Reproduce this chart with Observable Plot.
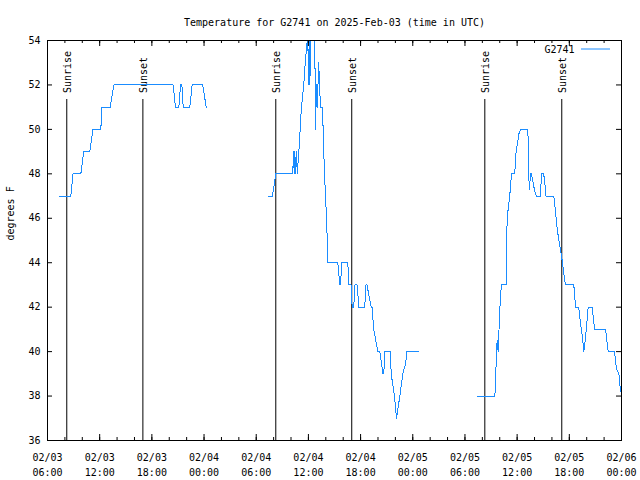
<!DOCTYPE html>
<html><head><meta charset="utf-8">
<script src="https://cdn.jsdelivr.net/npm/d3@7"></script>
<script src="https://cdn.jsdelivr.net/npm/@observablehq/plot@0.6"></script>
<style>body{margin:0;background:#fff}</style>
</head><body><div id="chart"></div>
<script>
const title = "Temperature for G2741 on 2025-Feb-03 (time in UTC)";
const seriesName = "G2741";
const yLabel = "degrees F";
const lineColor = "#1a8cff";

// observation times (UTC) and temperatures; null marks a gap in the record
const times = [
"2025-02-03T07:23","2025-02-03T08:41","2025-02-03T08:56","2025-02-03T09:50","2025-02-03T10:10","2025-02-03T10:52",
"2025-02-03T11:13","2025-02-03T12:08","2025-02-03T12:15","2025-02-03T13:13","2025-02-03T13:37","2025-02-03T20:27",
"2025-02-03T20:43","2025-02-03T21:06","2025-02-03T21:18","2025-02-03T21:27","2025-02-03T21:36","2025-02-03T22:22",
"2025-02-03T22:38","2025-02-03T23:51","2025-02-04T00:15",
null,
"2025-02-04T07:20","2025-02-04T07:52","2025-02-04T08:15","2025-02-04T10:12","2025-02-04T10:17","2025-02-04T10:22",
"2025-02-04T10:26","2025-02-04T10:33","2025-02-04T10:38","2025-02-04T10:43","2025-02-04T10:54","2025-02-04T11:03",
"2025-02-04T11:12","2025-02-04T11:28","2025-02-04T11:38","2025-02-04T11:52","2025-02-04T11:56","2025-02-04T12:01",
"2025-02-04T12:05","2025-02-04T12:10","2025-02-04T12:16","2025-02-04T12:44","2025-02-04T12:49","2025-02-04T12:56",
"2025-02-04T13:01","2025-02-04T13:11","2025-02-04T13:17","2025-02-04T13:23","2025-02-04T13:35","2025-02-04T13:42",
"2025-02-04T13:46","2025-02-04T13:51","2025-02-04T13:58","2025-02-04T14:05","2025-02-04T14:10","2025-02-04T14:14",
"2025-02-04T15:23","2025-02-04T15:37","2025-02-04T15:43","2025-02-04T15:48","2025-02-04T16:32","2025-02-04T16:38",
"2025-02-04T16:55","2025-02-04T17:02","2025-02-04T17:13","2025-02-04T17:20","2025-02-04T17:37","2025-02-04T17:47",
"2025-02-04T18:29","2025-02-04T18:36","2025-02-04T18:44","2025-02-04T19:13","2025-02-04T19:19","2025-02-04T19:31",
"2025-02-04T19:50","2025-02-04T19:59","2025-02-04T20:13","2025-02-04T20:24","2025-02-04T20:33","2025-02-04T20:40",
"2025-02-04T20:47","2025-02-04T21:26","2025-02-04T21:31","2025-02-04T21:54","2025-02-04T22:08","2025-02-04T22:19",
"2025-02-04T22:31","2025-02-04T22:51","2025-02-04T23:12","2025-02-04T23:17","2025-02-05T00:41",
null,
"2025-02-05T07:26","2025-02-05T09:26","2025-02-05T09:31","2025-02-05T09:35","2025-02-05T09:42","2025-02-05T09:49",
"2025-02-05T09:58","2025-02-05T10:05","2025-02-05T10:12","2025-02-05T10:44","2025-02-05T10:51","2025-02-05T10:58",
"2025-02-05T11:09","2025-02-05T11:16","2025-02-05T11:21","2025-02-05T11:44","2025-02-05T11:49","2025-02-05T12:03",
"2025-02-05T12:12","2025-02-05T12:25","2025-02-05T13:14","2025-02-05T13:21","2025-02-05T13:25","2025-02-05T13:32",
"2025-02-05T13:39","2025-02-05T13:44","2025-02-05T13:53","2025-02-05T14:02","2025-02-05T14:12","2025-02-05T14:41",
"2025-02-05T14:48","2025-02-05T15:00","2025-02-05T15:09","2025-02-05T15:18","2025-02-05T16:13","2025-02-05T16:23",
"2025-02-05T16:37","2025-02-05T16:48","2025-02-05T16:59","2025-02-05T17:13","2025-02-05T17:22","2025-02-05T17:34",
"2025-02-05T18:31","2025-02-05T18:43","2025-02-05T19:05","2025-02-05T19:17","2025-02-05T19:33","2025-02-05T19:40",
"2025-02-05T19:45","2025-02-05T20:04","2025-02-05T20:10","2025-02-05T20:38","2025-02-05T20:54","2025-02-05T22:10",
"2025-02-05T22:28","2025-02-05T23:12","2025-02-05T23:26","2025-02-05T23:42","2025-02-05T23:53"
];
const temps = [
47,47,48,48,49,49,
50,50,51,51,52,52,
51,51,52,52,51,51,
52,52,51,
null,
47,47,48,48,49,48,
49,48,49,48,49,50,
51,52,53,54,54,52,
54,52,54,54,50,52,
51,53,52,51,51,50,
49,48,47,46,45,44,
44,43,43,44,44,43,
43,42,42,43,43,42,
42,43,43,42,42,41,
40.3,40,40,39.5,39,39,
40,40,39,38,37,37.5,
38,39,39.5,40,40,
null,
38,38,38.5,39.5,40.5,40,
41.5,42.5,43,43,46,46.4,
47,47.6,48,48,48.8,49.4,
49.8,50,50,47.8,47.3,48,
48,47.8,47.5,47.2,47,47,
48,48,47.8,47,47,46.4,
45.5,45,44.6,44,43.5,43,
43,42,42,41.3,40.5,40,
40.2,41.5,42,42,41,41,
40,40,39.2,39,38.2
];

const sunTimes = ["2025-02-03T08:13","2025-02-03T16:58","2025-02-04T08:15","2025-02-04T16:59","2025-02-05T08:17","2025-02-05T17:08"];
const sunLabels = ["Sunrise","Sunset","Sunrise","Sunset","Sunrise","Sunset"];

const yTicks = [36,38,40,42,44,46,48,50,52,54];
const xTickTimes = ["2025-02-03T06:00","2025-02-03T12:00","2025-02-03T18:00","2025-02-04T00:00","2025-02-04T06:00","2025-02-04T12:00",
"2025-02-04T18:00","2025-02-05T00:00","2025-02-05T06:00","2025-02-05T12:00","2025-02-05T18:00","2025-02-06T00:00"];
const xTickLabels = ["02/03\n06:00","02/03\n12:00","02/03\n18:00","02/04\n00:00","02/04\n06:00","02/04\n12:00",
"02/04\n18:00","02/05\n00:00","02/05\n06:00","02/05\n12:00","02/05\n18:00","02/06\n00:00"];

const parse = s => new Date(s + ":00Z");
const data = times.map((t, i) => ({t: t ? parse(t) : null, v: temps[i]}));
const sun = sunTimes.map((t, i) => ({t: parse(t), label: sunLabels[i]}));
const xMajor = xTickTimes.map(parse);
const xMinor = d3.utcHour.every(2).range(xMajor[0], new Date(+xMajor[xMajor.length - 1] + 1));
const xTickData = xMajor.map((t, i) => ({t, label: xTickLabels[i]}));

const W = 640, H = 480, mL = 47, mR = 19, mT = 40, mB = 40;
const fw = W - mL - mR, fh = H - mT - mB;

const svg = Plot.plot({
  width: W, height: H,
  marginLeft: mL, marginRight: mR, marginTop: mT, marginBottom: mB,
  style: {fontFamily: "'DejaVu Sans Mono', monospace", fontSize: "10px", background: "#fff", color: "#000"},
  x: {type: "utc", domain: [xMajor[0], xMajor[xMajor.length - 1]], axis: null},
  y: {domain: [36, 54], axis: null},
  marks: [
    Plot.ruleX(sun, {x: "t", insetTop: 59, stroke: "#000", strokeWidth: 1}),
    Plot.text(sun, {x: "t", text: "label", frameAnchor: "top", dy: 52.5, dx: 1, rotate: -90, textAnchor: "start", lineAnchor: "middle", fill: "#000"}),
    Plot.line(data, {x: "t", y: "v", stroke: lineColor, strokeWidth: 1, clip: true, shapeRendering: "crispEdges"}),
    // y ticks (inward, mirrored)
    Plot.tickY(yTicks, {y: d => d, insetRight: fw - 5, stroke: "#000"}),
    Plot.tickY(yTicks, {y: d => d, insetLeft: fw - 5, stroke: "#000"}),
    // x ticks (inward, mirrored)
    Plot.tickX(xMinor, {x: d => d, insetTop: fh - 3, stroke: "#000"}),
    Plot.tickX(xMinor, {x: d => d, insetBottom: fh - 3, stroke: "#000"}),
    Plot.tickX(xMajor, {x: d => d, insetTop: fh - 6, stroke: "#000"}),
    Plot.tickX(xMajor, {x: d => d, insetBottom: fh - 6, stroke: "#000"}),
    Plot.frame({stroke: "#000", strokeWidth: 1}),
    Plot.text(yTicks, {y: d => d, text: d => String(d), frameAnchor: "left", dx: -7, textAnchor: "end", fill: "#000"}),
    Plot.text(xTickData, {x: "t", text: "label", frameAnchor: "bottom", dy: 10, lineAnchor: "top", lineHeight: 1.5, fill: "#000"}),
    Plot.text([title], {frameAnchor: "top", dy: -22, fill: "#000"}),
    Plot.text([yLabel], {frameAnchor: "left", dx: -37, rotate: -90, fill: "#000"}),
    Plot.text([seriesName], {frameAnchor: "top-right", dx: -47, dy: 9, textAnchor: "end", lineAnchor: "middle", fill: "#000"})
  ]
});
// legend sample line
d3.select(svg).append("line")
  .attr("x1", W - mR - 40).attr("x2", W - mR - 11)
  .attr("y1", mT + 9).attr("y2", mT + 9)
  .attr("stroke", lineColor).attr("stroke-width", 1);
document.getElementById("chart").append(svg);
</script>
</body></html>
